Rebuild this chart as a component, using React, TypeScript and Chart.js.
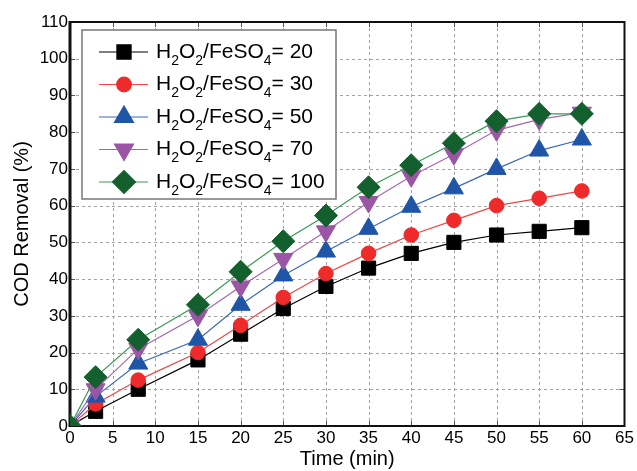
import React, { useEffect, useRef } from "react";
import { Chart, registerables } from "chart.js";
import { drawPoint } from "chart.js/helpers";

Chart.register(...registerables);

const times = [0, 3, 8, 15, 20, 25, 30, 35, 40, 45, 50, 55, 60];
const ratio20 = [0, 4, 10, 18, 25, 32, 38, 43, 47, 50, 52, 53, 54];
const ratio30 = [0, 6, 12.5, 20, 27.4, 35, 41.5, 47, 52, 56, 60, 62, 64];
const ratio50 = [0, 8, 17, 23.5, 33, 41, 47.5, 53.7, 59.7, 64.7, 70, 75, 78];
const ratio70 = [0, 10, 21, 30, 38, 45.5, 53, 61, 68, 74, 80.5, 83.5, 85.3];
const ratio100 = [0, 13.3, 23.5, 33, 42, 50.3, 57.3, 65, 71, 77, 83, 85, 85];

const seriesLabels = [
  "H₂O₂/FeSO₄= 20",
  "H₂O₂/FeSO₄= 30",
  "H₂O₂/FeSO₄= 50",
  "H₂O₂/FeSO₄= 70",
  "H₂O₂/FeSO₄= 100",
];
const xTitle = "Time (min)";
const yTitle = "COD Removal (%)";
const xMax = 65;
const xStep = 5;
const yMax = 110;
const yStep = 10;

const FONT = "'Liberation Sans', Arial, Helvetica, sans-serif";

const SUBS: Record<string, string> = {
  "₀": "0", "₁": "1", "₂": "2", "₃": "3", "₄": "4",
  "₅": "5", "₆": "6", "₇": "7", "₈": "8", "₉": "9",
};

function drawRichText(ctx: CanvasRenderingContext2D, text: string, x: number, y: number, size: number) {
  let cx = x;
  const subSize = Math.round(size * 0.66);
  ctx.fillStyle = "#000";
  ctx.textBaseline = "middle";
  ctx.textAlign = "left";
  for (const ch of text) {
    if (SUBS[ch]) {
      ctx.font = `${subSize}px ${FONT}`;
      const t = SUBS[ch];
      ctx.fillText(t, cx, y + size * 0.42);
      cx += ctx.measureText(t).width;
    } else {
      ctx.font = `${size}px ${FONT}`;
      ctx.fillText(ch, cx, y);
      cx += ctx.measureText(ch).width;
    }
  }
}

const framePlugin = {
  id: "frame",
  beforeDatasetsDraw(chart: any) {
    const { ctx, chartArea, scales } = chart;
    const { left, right, top, bottom } = chartArea;
    ctx.save();
    // dashed grid
    ctx.strokeStyle = "#a3a3a3";
    ctx.lineWidth = 1;
    ctx.setLineDash([3, 3]);
    ctx.beginPath();
    for (let v = xStep; v < xMax; v += xStep) {
      const px = Math.round(scales.x.getPixelForValue(v)) + 0.5;
      ctx.moveTo(px, top);
      ctx.lineTo(px, bottom);
    }
    for (let v = yStep; v < yMax; v += yStep) {
      const py = Math.round(scales.y.getPixelForValue(v)) + 0.5;
      ctx.moveTo(left, py);
      ctx.lineTo(right, py);
    }
    ctx.stroke();
    ctx.setLineDash([]);
    // inward tick marks
    ctx.strokeStyle = "#555";
    ctx.lineWidth = 1;
    ctx.beginPath();
    for (let v = xStep; v < xMax; v += xStep) {
      const px = Math.round(scales.x.getPixelForValue(v)) + 0.5;
      ctx.moveTo(px, top);
      ctx.lineTo(px, top + 5);
      ctx.moveTo(px, bottom);
      ctx.lineTo(px, bottom - 5);
    }
    for (let v = yStep; v < yMax; v += yStep) {
      const py = Math.round(scales.y.getPixelForValue(v)) + 0.5;
      ctx.moveTo(left, py);
      ctx.lineTo(left + 5, py);
      ctx.moveTo(right, py);
      ctx.lineTo(right - 5, py);
    }
    ctx.stroke();
    // frame
    ctx.strokeStyle = "#111";
    ctx.lineWidth = 2;
    ctx.strokeRect(left, top, right - left, bottom - top);
    ctx.lineWidth = 3;
    ctx.beginPath();
    ctx.moveTo(left, top - 1);
    ctx.lineTo(left, bottom + 1);
    ctx.stroke();
    ctx.restore();
  },
};

const legendPlugin = {
  id: "boxLegend",
  afterDraw(chart: any) {
    const { ctx, chartArea } = chart;
    const x0 = chartArea.left + 12;
    const y0 = chartArea.top + 8;
    const w = 254;
    const h = 169;
    ctx.save();
    ctx.fillStyle = "#fff";
    ctx.fillRect(x0, y0, w, h);
    ctx.strokeStyle = "#777";
    ctx.lineWidth = 1.5;
    ctx.strokeRect(x0, y0, w, h);
    chart.data.datasets.forEach((ds: any, i: number) => {
      const cy = y0 + 22 + i * 32.5;
      ctx.strokeStyle = ds.borderColor;
      ctx.lineWidth = 1.2;
      ctx.beginPath();
      ctx.moveTo(x0 + 17, cy);
      ctx.lineTo(x0 + 66, cy);
      ctx.stroke();
      ctx.fillStyle = ds.pointBackgroundColor;
      ctx.strokeStyle = ds.pointBorderColor;
      drawPoint(
        ctx,
        {
          pointStyle: ds.pointStyle,
          rotation: ds.pointRotation || 0,
          radius: ds.pointRadius,
          borderWidth: 1,
        } as any,
        x0 + 42,
        cy
      );
      drawRichText(ctx, ds.label, x0 + 74, cy, 21);
    });
    ctx.restore();
  },
};

function makeSeries(values: number[]) {
  return times.map((t, i) => ({ x: t, y: values[i] }));
}

export default function App() {
  const canvasRef = useRef<HTMLCanvasElement>(null);

  useEffect(() => {
    const canvas = canvasRef.current;
    if (!canvas) return;
    const specs = [
      { data: ratio20, line: "#000000", fill: "#000000", style: "rect", r: 10, rot: 0, order: 5 },
      { data: ratio30, line: "#f04545", fill: "#ee2a2a", style: "circle", r: 7.3, rot: 0, order: 4 },
      { data: ratio50, line: "#3a68bd", fill: "#1f55a6", style: "triangle", r: 11, rot: 0, order: 3 },
      { data: ratio70, line: "#a866b5", fill: "#9a55a4", style: "triangle", r: 11, rot: 180, order: 2 },
      { data: ratio100, line: "#3c9a58", fill: "#145f2e", style: "rectRot", r: 11.5, rot: 0, order: 1 },
    ];
    const chart = new Chart(canvas, {
      type: "line",
      data: {
        datasets: specs.map((s, i) => ({
          label: seriesLabels[i],
          data: makeSeries(s.data),
          borderColor: s.line,
          backgroundColor: s.fill,
          pointBackgroundColor: s.fill,
          pointBorderColor: s.fill,
          pointBorderWidth: 1,
          pointStyle: s.style as any,
          pointRotation: s.rot,
          pointRadius: s.r,
          borderWidth: 1.2,
          tension: 0,
          order: s.order,
          clip: 0 as any,
        })),
      },
      options: {
        animation: false,
        responsive: false,
        maintainAspectRatio: false,
        layout: { padding: { top: 22, right: 11, left: 0, bottom: 0 } },
        plugins: {
          legend: { display: false },
          tooltip: { enabled: false },
        },
        scales: {
          x: {
            type: "linear",
            min: 0,
            max: xMax,
            ticks: {
              stepSize: xStep,
              color: "#000",
              font: { family: FONT, size: 17 },
              padding: 2,
              maxRotation: 0,
            },
            grid: { display: false, drawTicks: false },
            border: { display: false },
            title: {
              display: true,
              text: xTitle,
              color: "#000",
              font: { family: FONT, size: 20 },
              padding: { top: 0, bottom: 0 },
            },
            afterFit: (scale: any) => {
              scale.height = 45;
            },
          },
          y: {
            type: "linear",
            min: 0,
            max: yMax,
            ticks: {
              stepSize: yStep,
              color: "#000",
              font: { family: FONT, size: 17 },
              padding: 2,
            },
            grid: { display: false, drawTicks: false },
            border: { display: false },
            title: {
              display: true,
              text: yTitle,
              color: "#000",
              font: { family: FONT, size: 20 },
              padding: { top: 10, bottom: 0 },
            },
            afterFit: (scale: any) => {
              scale.width = 70;
            },
          },
        },
      },
      plugins: [framePlugin, legendPlugin],
    });
    return () => chart.destroy();
  }, []);

  return (
    <div style={{ position: "fixed", left: 0, top: 0, width: 637, height: 471, background: "#fff" }}>
      <canvas ref={canvasRef} width={637} height={471} style={{ width: 637, height: 471 }} />
    </div>
  );
}
